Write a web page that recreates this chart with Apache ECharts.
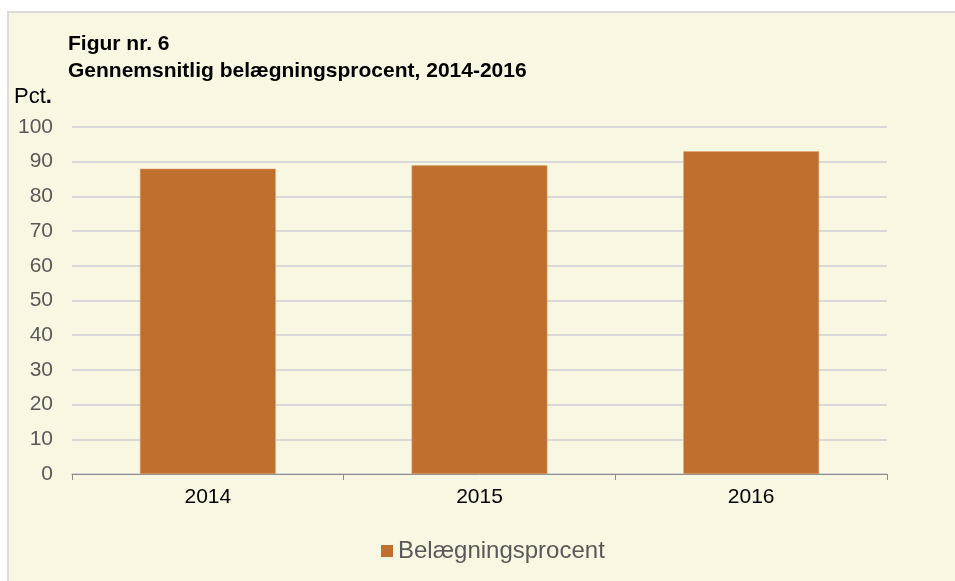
<!DOCTYPE html>
<html>
<head>
<meta charset="utf-8">
<script src="https://cdn.jsdelivr.net/npm/echarts@6/dist/echarts.min.js"></script>
<style>
    html, body { margin: 0; padding: 0; background: #ffffff; }
    #panel {
        position: absolute; left: 7px; top: 11px; width: 960px; height: 580px;
        background: #f8f7e1; border-top: 2px solid #dcdcdc; border-left: 2px solid #dcdcdc;
    }
    #main { position: absolute; left: 0; top: 0; width: 955px; height: 581px; }
</style>
</head>
<body>
<div id="panel"></div>
<div id="main"></div>
<script>
// data
const years = ['2014', '2015', '2016'];
const occupancy = [88, 89, 93];
const seriesName = 'Belægningsprocent';

const chart = echarts.init(document.getElementById('main'), null, { renderer: 'canvas' });

const font = 'Liberation Sans, Arial, sans-serif';

chart.setOption({
    backgroundColor: 'transparent',
    animation: false,
    textStyle: { fontFamily: font },
    title: {
        text: 'Figur nr. 6\nGennemsnitlig belægningsprocent, 2014-2016',
        left: 63,
        top: 26,
        textStyle: { fontSize: 21, fontWeight: 'bold', color: '#000', lineHeight: 27, fontFamily: font }
    },
    graphic: [{
        type: 'text',
        left: 14,
        top: 86,
        style: {
            text: '{n|Pct}{b|.}',
            rich: {
                n: { fontSize: 22, color: '#000', fontFamily: font },
                b: { fontSize: 22, fontWeight: 'bold', color: '#000', fontFamily: font }
            }
        }
    }],
    legend: {
        bottom: 13,
        left: 376,
        itemWidth: 12,
        itemHeight: 12,
        itemGap: 6,
        icon: 'rect',
        itemStyle: { borderWidth: 0 },
        textStyle: { fontSize: 24, color: '#595959', fontFamily: font },
        data: [seriesName]
    },
    grid: { left: 72, right: 68, top: 127, bottom: 107 },
    xAxis: {
        type: 'category',
        data: years,
        axisLine: { lineStyle: { color: '#8c8c8c', width: 1 } },
        axisTick: { show: true, length: 6, alignWithLabel: false, lineStyle: { color: '#8c8c8c' } },
        axisLabel: { fontSize: 21, color: '#000', margin: 13 }
    },
    yAxis: {
        type: 'value',
        min: 0,
        max: 100,
        interval: 10,
        axisLine: { show: false },
        axisTick: { show: false },
        axisLabel: { fontSize: 21, color: '#595959', margin: 19 },
        splitLine: { lineStyle: { color: '#d9d9d9', width: 2 } }
    },
    series: [{
        name: seriesName,
        type: 'bar',
        data: occupancy,
        barWidth: '50%',
        itemStyle: { color: '#c06f2f', borderColor: '#e0a870', borderWidth: 0.5 }
    }]
});
</script>
</body>
</html>
